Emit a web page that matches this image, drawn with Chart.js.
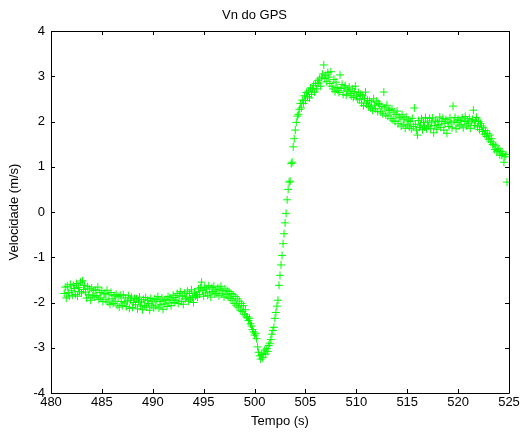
<!DOCTYPE html>
<html>
<head>
<meta charset="utf-8">
<title>Vn do GPS</title>
<script src="https://cdn.jsdelivr.net/npm/chart.js@4.4.1/dist/chart.umd.min.js"></script>
<style>
    html, body { margin: 0; padding: 0; background: #fff; }
    #wrap { width: 524px; height: 434px; }
</style>
</head>
<body>
<div id="wrap"><canvas id="vnChart" width="524" height="434"></canvas></div>
<script>
// amostras do GPS, 10 Hz, a partir de t0
const t0 = 481.3;
const dt = 0.1;

// Vn (m/s), uma linha por segundo
const vn = [
    -1.80,-1.66,-1.90,-1.64,-1.78,-1.86,-1.60,-1.73,-1.84,-1.62,
    -1.69,-1.82,-1.58,-1.86,-1.67,-1.76,-1.55,-1.79,-1.52,-1.71,
    -1.62,-1.77,-1.90,-1.65,-1.83,-1.70,-1.95,-1.68,-1.85,-1.73,
    -1.88,-1.72,-1.85,-1.66,-1.93,-1.78,-1.90,-1.74,-1.98,-1.81,
    -1.80,-1.94,-1.73,-1.99,-1.83,-2.04,-1.78,-1.92,-2.02,-1.85,
    -1.97,-1.82,-2.06,-1.87,-2.10,-1.84,-1.98,-2.07,-1.83,-2.01,
    -1.90,-2.09,-1.97,-1.85,-2.13,-1.95,-1.88,-2.11,-2.00,-1.91,
    -2.05,-1.92,-2.14,-1.97,-1.88,-2.08,-1.99,-2.16,-1.93,-2.06,
    -1.89,-2.10,-1.95,-2.02,-2.17,-1.91,-2.06,-1.97,-2.12,-1.92,
    -2.08,-1.94,-1.87,-2.12,-1.98,-2.05,-1.90,-2.15,-1.96,-2.03,
    -1.93,-2.09,-1.87,-2.01,-1.90,-2.07,-1.95,-1.84,-2.00,-1.89,
    -1.95,-1.80,-2.02,-1.85,-1.76,-1.98,-1.86,-2.04,-1.79,-1.92,
    -1.88,-1.75,-1.97,-1.80,-1.92,-1.72,-1.89,-2.00,-1.77,-1.86,
    -1.83,-1.88,-1.70,-1.82,-1.67,-1.55,-1.74,-1.86,-1.66,-1.79,
    -1.70,-1.84,-1.63,-1.77,-1.88,-1.67,-1.76,-1.64,-1.81,-1.72,
    -1.80,-1.68,-1.85,-1.72,-1.64,-1.81,-1.74,-1.88,-1.70,-1.83,
    -1.74,-1.88,-1.76,-1.91,-1.80,-1.95,-1.83,-2.02,-1.87,-2.06,
    -1.92,-2.10,-1.97,-2.17,-2.02,-2.20,-2.07,-2.27,-2.16,-2.32,
    -2.32,-2.40,-2.35,-2.47,-2.52,-2.60,-2.65,-2.72,-2.68,-2.80,
    -2.98,-3.10,-3.18,-3.25,-3.15,-3.22,-3.12,-3.05,-3.14,-3.02,
    -3.08,-2.95,-2.90,-2.82,-2.70,-2.62,-2.55,-2.35,-2.22,-2.08,
    -1.95,-1.62,-1.40,-1.17,-0.96,-0.70,-0.48,-0.24,-0.03,0.27,
    0.50,0.66,0.68,1.07,1.10,1.44,1.62,1.81,1.98,2.12,
    2.16,2.27,2.40,2.30,2.47,2.40,2.57,2.46,2.64,2.55,
    2.67,2.52,2.74,2.60,2.72,2.80,2.65,2.84,2.72,2.90,
    2.85,2.94,2.78,2.98,3.05,3.25,2.95,3.02,2.88,3.08,
    2.98,2.84,3.10,2.78,2.72,2.93,2.66,2.87,2.75,2.69,
    2.64,3.03,2.73,2.82,2.60,2.74,2.79,2.58,2.70,2.67,
    2.76,2.62,2.57,2.72,2.53,2.66,2.78,2.56,2.50,2.64,
    2.48,2.60,2.41,2.57,2.35,2.51,2.65,2.39,2.47,2.33,
    2.46,2.30,2.43,2.25,2.50,2.36,2.28,2.45,2.22,2.40,
    2.37,2.21,2.33,2.17,2.65,2.30,2.14,2.36,2.12,2.26,
    2.24,2.07,2.28,2.03,2.19,2.00,2.15,2.23,1.95,2.10,
    2.08,1.90,2.15,1.94,2.05,1.85,2.10,1.92,2.03,1.88,
    2.00,1.84,2.07,1.89,2.30,1.94,1.81,1.70,2.02,1.87,
    1.92,2.06,1.82,1.98,1.88,2.09,1.84,2.01,1.90,2.07,
    1.85,1.97,2.08,1.75,1.91,2.03,1.83,2.00,1.93,2.10,
    1.87,2.00,2.07,1.81,1.96,2.04,1.74,1.99,1.89,2.08,
    1.97,1.86,2.34,2.01,2.09,1.84,1.98,2.05,1.90,2.02,
    1.93,2.08,1.86,2.00,2.11,1.90,2.03,1.95,2.07,1.85,
    1.99,2.05,2.25,1.91,2.02,2.09,1.88,2.00,1.82,1.96,
    1.90,1.78,1.86,1.72,1.80,1.67,1.74,1.61,1.70,1.55,
    1.62,1.49,1.50,1.38,1.46,1.33,1.36,1.40,1.26,1.34,
    1.25,1.30,1.10,1.22,1.27,0.66
];

const xTicks = [480, 485, 490, 495, 500, 505, 510, 515, 520, 525];
const yTicks = [-4, -3, -2, -1, 0, 1, 2, 3, 4];

const FONT = 'Arial, "Liberation Sans", Helvetica, sans-serif';

function buildPoints() {
    return vn.map((v, i) => ({ x: +(t0 + i * dt).toFixed(1), y: v }));
}

// caixa do eixo com marcas para dentro, estilo matlab
const boxTicks = {
    id: 'boxTicks',
    afterDraw(chart) {
        const ctx = chart.ctx;
        const a = chart.chartArea;
        const xs = chart.scales.x, ys = chart.scales.y;
        const len = 4;
        ctx.save();
        ctx.strokeStyle = '#000';
        ctx.lineWidth = 1;
        ctx.beginPath();
        ctx.rect(Math.round(a.left) + 0.5, Math.round(a.top) + 0.5,
                 Math.round(a.right - a.left), Math.round(a.bottom - a.top));
        xTicks.forEach(t => {
            const px = Math.round(xs.getPixelForValue(t)) + 0.5;
            ctx.moveTo(px, a.bottom); ctx.lineTo(px, a.bottom - len);
            ctx.moveTo(px, a.top); ctx.lineTo(px, a.top + len);
        });
        yTicks.forEach(t => {
            const py = Math.round(ys.getPixelForValue(t)) + 0.5;
            ctx.moveTo(a.left, py); ctx.lineTo(a.left + len, py);
            ctx.moveTo(a.right, py); ctx.lineTo(a.right - len, py);
        });
        ctx.stroke();
        ctx.restore();
    }
};

const chart = new Chart(document.getElementById('vnChart').getContext('2d'), {
    type: 'scatter',
    data: {
        datasets: [{
            label: 'Vn',
            data: buildPoints(),
            pointStyle: 'cross',
            pointRadius: 4,
            pointBorderWidth: 1,
            borderColor: '#00ff00',
            backgroundColor: '#00ff00',
            showLine: false
        }]
    },
    options: {
        responsive: false,
        animation: false,
        layout: { padding: { left: 0, right: 15, top: 0, bottom: 0 } },
        plugins: {
            legend: { display: false },
            tooltip: { enabled: false },
            title: {
                display: true,
                text: 'Vn do GPS',
                color: '#000',
                font: { family: FONT, size: 13, weight: 'normal' },
                padding: { top: 8, bottom: 7.4 }
            }
        },
        scales: {
            x: {
                type: 'linear',
                min: 480, max: 525,
                afterFit: s => { s.height = 41; },
                afterBuildTicks: s => { s.ticks = xTicks.map(v => ({ value: v })); },
                grid: { display: false, drawTicks: false },
                border: { display: false },
                ticks: { color: '#000', padding: 2, maxRotation: 0, font: { family: FONT, size: 13 } },
                title: {
                    display: true, text: 'Tempo (s)', color: '#000',
                    font: { family: FONT, size: 13 },
                    padding: { top: 0, bottom: 5 }
                }
            },
            y: {
                type: 'linear',
                min: -4, max: 4,
                afterFit: s => { s.width = 51; },
                afterBuildTicks: s => { s.ticks = yTicks.map(v => ({ value: v })); },
                grid: { display: false, drawTicks: false },
                border: { display: false },
                ticks: { color: '#000', padding: 6, font: { family: FONT, size: 13 } },
                title: {
                    display: true, text: 'Velocidade (m/s)', color: '#000',
                    font: { family: FONT, size: 13 },
                    padding: { top: 7, bottom: 0 }
                }
            }
        }
    },
    plugins: [boxTicks]
});
</script>
</body>
</html>
